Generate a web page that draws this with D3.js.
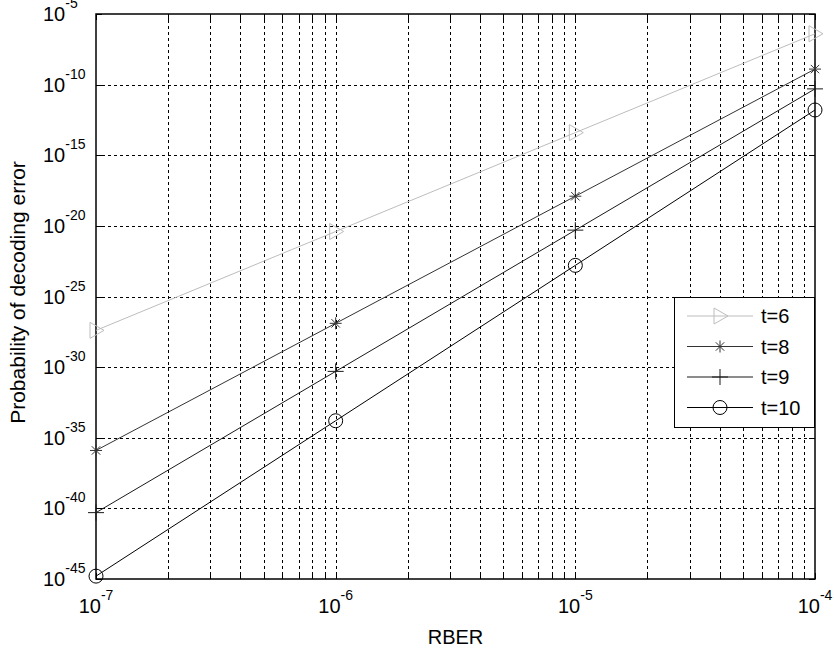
<!DOCTYPE html>
<html>
<head>
<meta charset="utf-8">
<script src="https://cdn.jsdelivr.net/npm/d3@7"></script>
<style>
  body { margin: 0; background: #fff; }
  svg { display: block; font-family: Arial, "Liberation Sans", sans-serif; }
</style>
</head>
<body>
<svg id="chart" width="834" height="652"></svg>
<script>
// RBER values (x) and probability of decoding error for each t
const rber = [1e-7, 1e-6, 1e-5, 1e-4]
const t6 = [4e-28, 4e-21, 4e-14, 4e-7]
const t8 = [1.26e-36, 1.26e-27, 1.26e-18, 1.26e-9]
const t9 = [5e-41, 5e-31, 5e-21, 5e-11]
const t10 = [1.6e-45, 1.6e-34, 1.6e-23, 1.6e-12]
const seriesNames = ['t=6', 't=8', 't=9', 't=10']
const xTickExp = [-7, -6, -5, -4]
const yTickExp = [-45, -40, -35, -30, -25, -20, -15, -10, -5]

const svg = d3.select('#chart')
const [plotL, plotR, plotT, plotB] = [96, 815, 14, 579]

const x = d3.scaleLog().domain([1e-7, 1e-4]).range([plotL, plotR])
const y = d3.scaleLog().domain([1e-45, 1e-5]).range([plotB, plotT])

const series = [
  { name: seriesNames[0], values: t6, color: '#bdbdbd', marker: 'tri' },
  { name: seriesNames[1], values: t8, color: '#333333', marker: 'star' },
  { name: seriesNames[2], values: t9, color: '#1a1a1a', marker: 'plus' },
  { name: seriesNames[3], values: t10, color: '#000000', marker: 'circle' }
]

// grid
const minorX = []
for (let e = -7; e < -4; e++) {
  for (let k = 1; k <= 9; k++) minorX.push(k * Math.pow(10, e))
}
minorX.push(1e-4)
const yTicks = yTickExp.map(e => Math.pow(10, e))

const grid = svg.append('g')
  .attr('stroke', '#000')
  .attr('stroke-width', 1)
  .attr('stroke-dasharray', '3,3')
  .attr('shape-rendering', 'crispEdges')
grid.selectAll('.gx')
  .data(minorX.filter(v => v > 1.01e-7 && v < 0.99e-4))
  .enter().append('line')
  .attr('x1', d => Math.round(x(d)) + 0.5)
  .attr('x2', d => Math.round(x(d)) + 0.5)
  .attr('y1', plotT)
  .attr('y2', plotB)
grid.selectAll('.gy')
  .data(yTicks.filter(v => v > 1.01e-45 && v < 0.99e-5))
  .enter().append('line')
  .attr('y1', d => Math.round(y(d)) + 0.5)
  .attr('y2', d => Math.round(y(d)) + 0.5)
  .attr('x1', plotL)
  .attr('x2', plotR)

// tick marks (inside, both sides)
const ticks = svg.append('g')
  .attr('stroke', '#000')
  .attr('stroke-width', 1)
  .attr('shape-rendering', 'crispEdges')
const TL = 6
minorX.forEach(v => {
  const px = Math.round(x(v)) + 0.5
  ticks.append('line').attr('x1', px).attr('x2', px).attr('y1', plotB).attr('y2', plotB - TL)
  ticks.append('line').attr('x1', px).attr('x2', px).attr('y1', plotT).attr('y2', plotT + TL)
})
yTicks.forEach(v => {
  const py = Math.round(y(v)) + 0.5
  ticks.append('line').attr('y1', py).attr('y2', py).attr('x1', plotL).attr('x2', plotL + TL)
  ticks.append('line').attr('y1', py).attr('y2', py).attr('x1', plotR).attr('x2', plotR - TL)
})

// frame
svg.append('rect')
  .attr('x', plotL)
  .attr('y', plotT)
  .attr('width', plotR - plotL)
  .attr('height', plotB - plotT)
  .attr('fill', 'none')
  .attr('stroke', '#000')
  .attr('stroke-width', 1.5)

// tick labels
const yLab = svg.append('g').attr('fill', '#000')
yTickExp.forEach(e => {
  const py = y(Math.pow(10, e))
  const t = yLab.append('text')
    .attr('x', 43)
    .attr('y', py + 7)
    .style('font-size', '20px')
  t.append('tspan').text('10')
  t.append('tspan').attr('dy', -13).style('font-size', '14px').text(e)
})
const xLab = svg.append('g').attr('fill', '#000')
xTickExp.forEach(e => {
  const px = x(Math.pow(10, e))
  const t = xLab.append('text')
    .attr('x', px)
    .attr('y', 613)
    .style('text-anchor', 'middle')
    .style('font-size', '20px')
  t.append('tspan').text('10')
  t.append('tspan').attr('dy', -13).style('font-size', '14px').text(e)
})

// axis titles
svg.append('text')
  .attr('x', (plotL + plotR) / 2)
  .attr('y', 644)
  .style('text-anchor', 'middle')
  .style('font-size', '20px')
  .text('RBER')
svg.append('text')
  .attr('transform', `translate(25, ${(plotT + plotB) / 2 - 4}) rotate(-90)`)
  .style('text-anchor', 'middle')
  .style('font-size', '21px')
  .text('Probability of decoding error')

// markers
function drawMarker(g, type, cx, cy, color) {
  if (type === 'tri') {
    g.append('path')
      .attr('d', `M${cx - 6},${cy - 8}L${cx + 8},${cy}L${cx - 6},${cy + 8}Z`)
      .attr('fill', 'none').attr('stroke', color)
  } else if (type === 'star') {
    const r = 6
    g.append('path')
      .attr('d', `M${cx - r},${cy}L${cx + r},${cy}M${cx},${cy - r}L${cx},${cy + r}` +
        `M${cx - r * 0.7},${cy - r * 0.7}L${cx + r * 0.7},${cy + r * 0.7}` +
        `M${cx - r * 0.7},${cy + r * 0.7}L${cx + r * 0.7},${cy - r * 0.7}`)
      .attr('stroke', color)
  } else if (type === 'plus') {
    const r = 8
    g.append('path')
      .attr('d', `M${cx - r},${cy}L${cx + r},${cy}M${cx},${cy - r}L${cx},${cy + r}`)
      .attr('stroke', color)
  } else {
    g.append('circle')
      .attr('cx', cx).attr('cy', cy).attr('r', 7)
      .attr('fill', 'none').attr('stroke', color)
  }
}

const line = d3.line().x(d => x(d[0])).y(d => y(d[1]))
series.forEach(s => {
  const pts = rber.map((r, i) => [r, s.values[i]])
  const g = svg.append('g')
  g.append('path')
    .attr('d', line(pts))
    .attr('fill', 'none')
    .attr('stroke', s.color)
    .attr('stroke-width', 1)
  pts.forEach(p => drawMarker(g, s.marker, x(p[0]), y(p[1]), s.color))
})

// legend
const legend = svg.append('g')
legend.append('rect')
  .attr('x', 674.5)
  .attr('y', 297.5)
  .attr('width', 140)
  .attr('height', 130)
  .attr('fill', '#fff')
  .attr('stroke', '#000')
  .attr('stroke-width', 1)
series.forEach((s, i) => {
  const ly = 316 + i * 30.5
  legend.append('line')
    .attr('x1', 687).attr('x2', 753)
    .attr('y1', ly).attr('y2', ly)
    .attr('stroke', s.color)
  drawMarker(legend, s.marker, 720, ly, s.color)
  legend.append('text')
    .attr('x', 761)
    .attr('y', ly + 7)
    .style('font-size', '20px')
    .text(s.name)
})
</script>
</body>
</html>
